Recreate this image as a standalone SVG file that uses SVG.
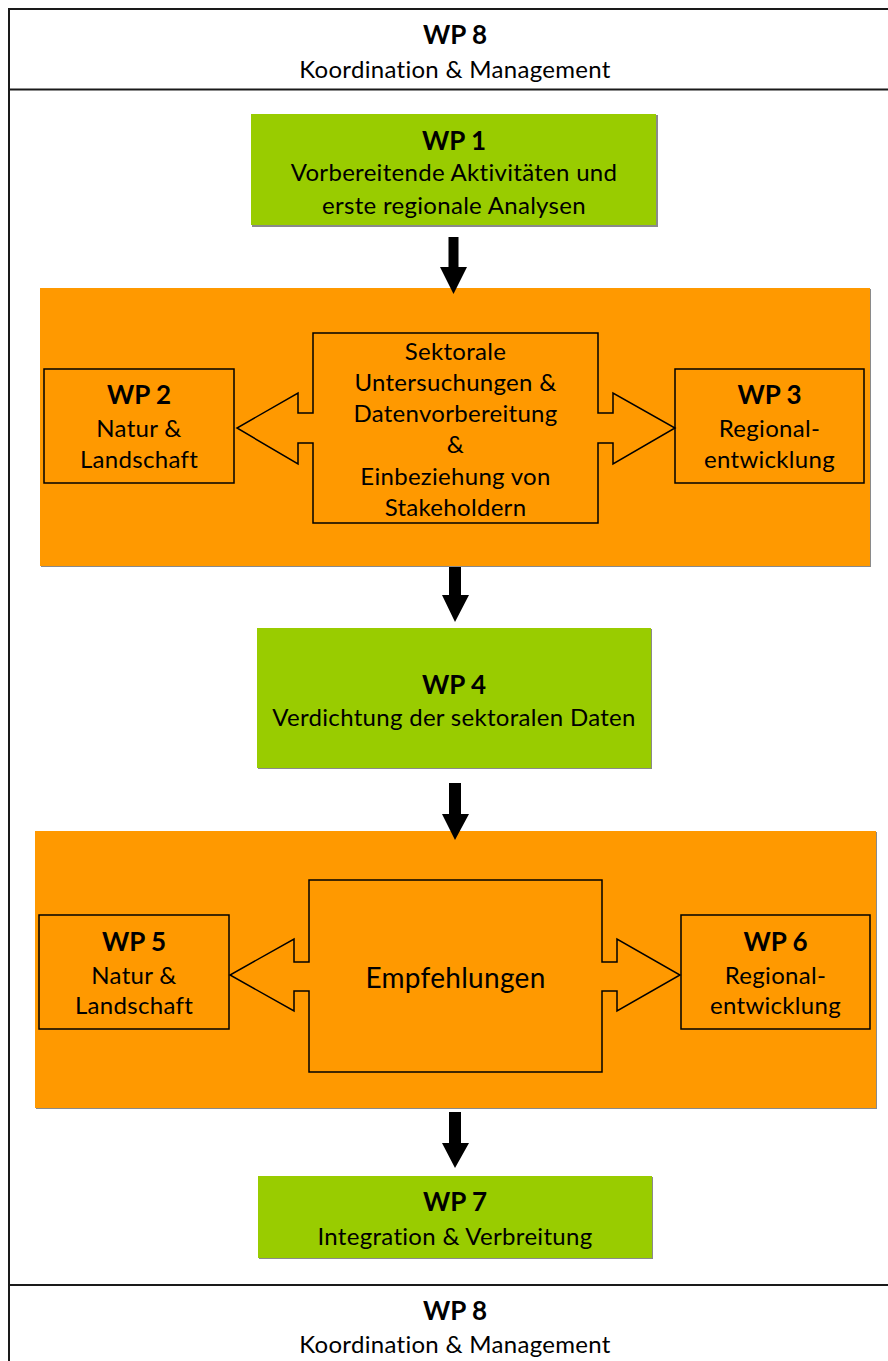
<svg xmlns="http://www.w3.org/2000/svg" width="888" height="1361" viewBox="0 0 888 1361">
<style>
  text { font-family: Lato, "Liberation Sans", "DejaVu Sans", sans-serif; fill: #000; text-anchor: middle; }
  .t { font-size: 24px; letter-spacing: 0.3px; }
  .b { font-size: 26px; font-weight: bold; }
  .big { font-size: 28px; letter-spacing: 0.3px; }
  .green { fill: #99CC00; }
  .orange { fill: #FF9900; }
  .shadow { fill: #8a8a8a; }
  .box { fill: #FF9900; stroke: #000; stroke-width: 1.5; }
  .frame { fill: none; stroke: #1a1a1a; stroke-width: 2; }
  .arrow { fill: #000; }
</style>
<rect x="0" y="0" width="888" height="1361" fill="#fff"/>
<g id="frame">
  <rect class="frame" x="9" y="9" width="900" height="1370"/>
  <line class="frame" x1="9" y1="89.5" x2="900" y2="89.5"/>
  <line class="frame" x1="9" y1="1285" x2="900" y2="1285"/>
</g>
<g id="wp8-top">
  <text class="b" x="455" y="44">WP 8</text>
  <text class="t" x="455" y="78">Koordination &amp; Management</text>
</g>
<g id="wp1">
  <rect class="shadow" x="252" y="115" width="406" height="112"/>
  <rect class="green" x="251" y="114" width="405" height="111"/>
  <text class="b" x="454" y="150">WP 1</text>
  <text class="t" x="454" y="181">Vorbereitende Aktivitäten und</text>
  <text class="t" x="454" y="214">erste regionale Analysen</text>
</g>
<g id="group1">
  <rect class="shadow" x="41" y="289" width="830" height="278"/>
  <rect class="orange" x="40" y="288" width="830" height="278"/>
</g>
<g id="wp2">
  <rect class="box" x="44" y="369" width="190" height="114"/>
  <text class="b" x="139" y="404">WP 2</text>
  <text class="t" x="139" y="437">Natur &amp;</text>
  <text class="t" x="139" y="468">Landschaft</text>
</g>
<g id="wp3">
  <rect class="box" x="675" y="369" width="189" height="114"/>
  <text class="b" x="769.5" y="404">WP 3</text>
  <text class="t" x="769.5" y="437">Regional-</text>
  <text class="t" x="769.5" y="468">entwicklung</text>
</g>
<g id="sektorale">
  <polygon class="box" points="313,333 598,333 598,413 613,413 613,393 675,428 613,464 613,443 598,443 598,523 313,523 313,443 298,443 298,464 237,428 298,393 298,413 313,413"/>
  <text class="t" x="455.5" y="360">Sektorale</text>
  <text class="t" x="455.5" y="391">Untersuchungen &amp;</text>
  <text class="t" x="455.5" y="422">Datenvorbereitung</text>
  <text class="t" x="455.5" y="453">&amp;</text>
  <text class="t" x="455.5" y="485">Einbeziehung von</text>
  <text class="t" x="455.5" y="516">Stakeholdern</text>
</g>
<g id="wp4">
  <rect class="shadow" x="258" y="629" width="394" height="140"/>
  <rect class="green" x="257" y="628" width="394" height="140"/>
  <text class="b" x="454" y="694">WP 4</text>
  <text class="t" x="454" y="726">Verdichtung der sektoralen Daten</text>
</g>
<g id="group2">
  <rect class="shadow" x="36" y="832" width="841" height="277"/>
  <rect class="orange" x="35" y="831" width="841" height="277"/>
</g>
<g id="wp5">
  <rect class="box" x="39" y="915" width="190" height="114"/>
  <text class="b" x="134" y="951">WP 5</text>
  <text class="t" x="134" y="984">Natur &amp;</text>
  <text class="t" x="134" y="1014">Landschaft</text>
</g>
<g id="wp6">
  <rect class="box" x="681" y="915" width="189" height="114"/>
  <text class="b" x="775.5" y="951">WP 6</text>
  <text class="t" x="775.5" y="984">Regional-</text>
  <text class="t" x="775.5" y="1014">entwicklung</text>
</g>
<g id="empfehlungen">
  <polygon class="box" points="309,880 602,880 602,962 617,962 617,939 680,975 617,1011 617,991 602,991 602,1072 309,1072 309,991 294,991 294,1011 230,975 294,939 294,962 309,962"/>
  <text class="big" x="455.5" y="988">Empfehlungen</text>
</g>
<g id="wp7">
  <rect class="shadow" x="259" y="1177" width="394" height="82"/>
  <rect class="green" x="258" y="1176" width="394" height="82"/>
  <text class="b" x="455" y="1211">WP 7</text>
  <text class="t" x="455" y="1245">Integration &amp; Verbreitung</text>
</g>
<g id="wp8-bottom">
  <text class="b" x="455" y="1320">WP 8</text>
  <text class="t" x="455" y="1353">Koordination &amp; Management</text>
</g>
<g id="connectors">
  <polygon class="arrow" points="448.5,237 458.5,237 458.5,267 467,267 453.5,294 440,267 448.5,267"/>
  <polygon class="arrow" points="449,567 461,567 461,595 469,595 455,622 442,595 449,595"/>
  <polygon class="arrow" points="449,783 461,783 461,814 469,814 455,840 442,814 449,814"/>
  <polygon class="arrow" points="449,1112 461,1112 461,1143 469,1143 455,1168 442,1143 449,1143"/>
</g>
</svg>
